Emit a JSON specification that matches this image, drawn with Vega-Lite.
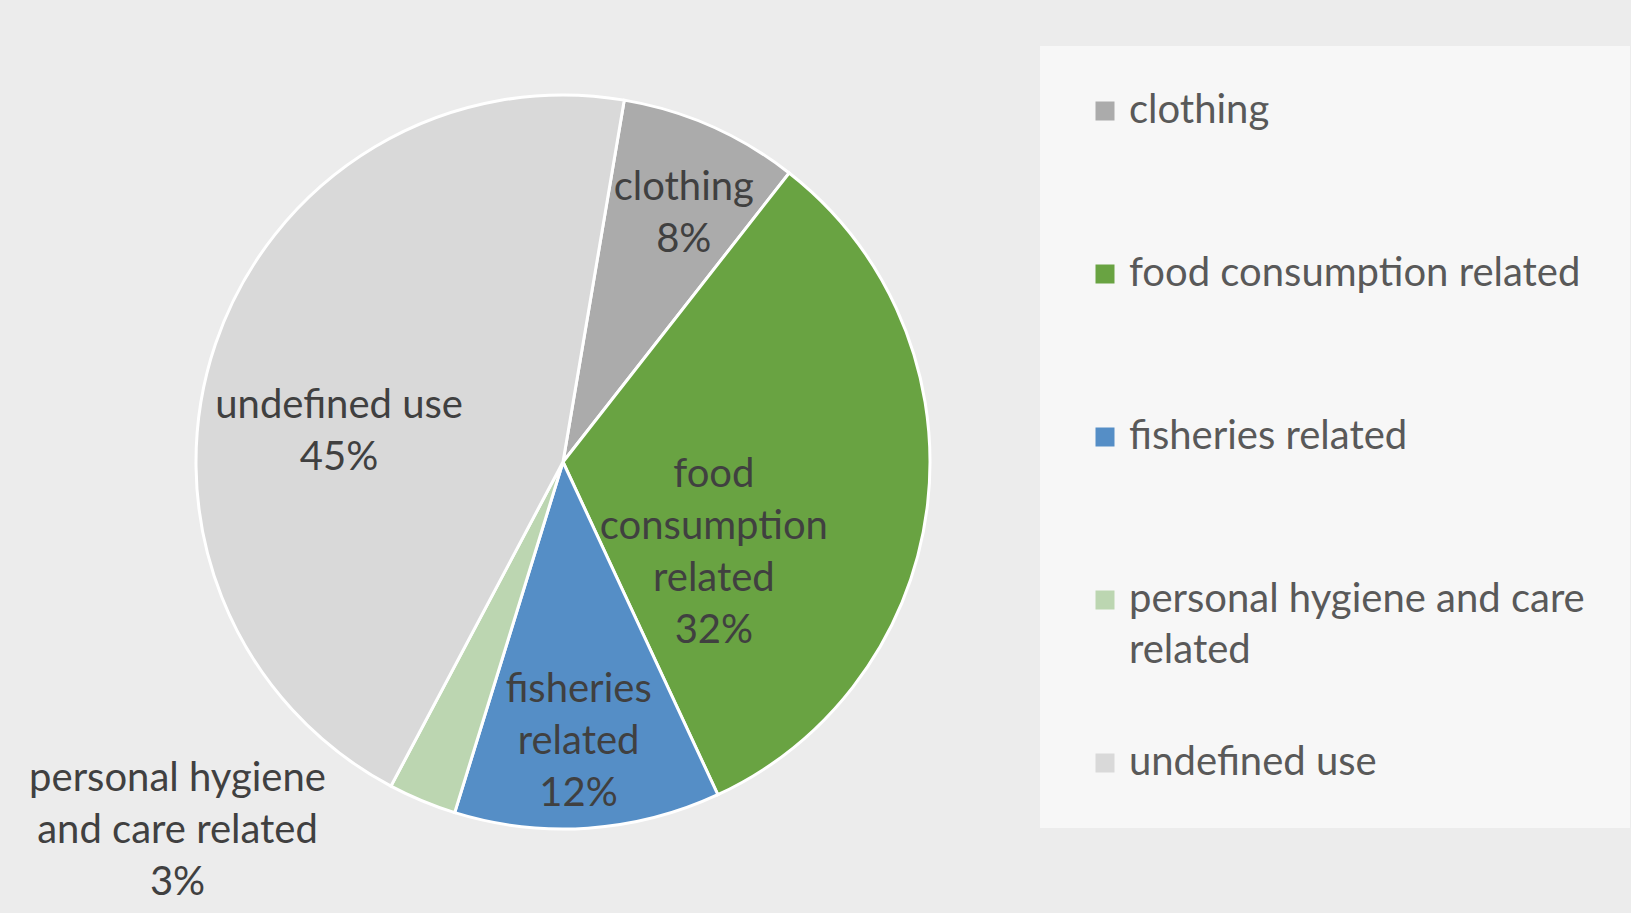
{
  "$schema": "https://vega.github.io/schema/vega-lite/v6.json",
  "background": "#ececec",
  "autosize": {"type": "none"},
  "padding": {"left": 0, "top": 11, "right": 505, "bottom": 0},
  "width": 1126,
  "height": 902,
  "data": {"values": [
    {"category": "clothing", "rank": 1, "share": 7.9, "label": "clothing|8%"},
    {"category": "food consumption related", "rank": 2, "share": 32.5, "label": "food|consumption|related|32%"},
    {"category": "fisheries related", "rank": 3, "share": 11.7, "label": "fisheries|related|12%"},
    {"category": "personal hygiene and care related", "rank": 4, "share": 3.0, "label": "personal hygiene|and care related|3%"},
    {"category": "undefined use", "rank": 5, "share": 44.9, "label": "undefined use|45%"}
  ]},
  "encoding": {
    "theta": {"field": "share", "type": "quantitative", "stack": true, "scale": {"range": [0.1676, 6.4508]}},
    "order": {"field": "rank", "type": "quantitative", "sort": "ascending"}
  },
  "layer": [
    {
      "mark": {"type": "arc", "outerRadius": 367, "stroke": "#ffffff", "strokeWidth": 3},
      "encoding": {
        "color": {
          "field": "category", "type": "nominal",
          "scale": {
            "domain": ["clothing", "food consumption related", "fisheries related", "personal hygiene and care related", "undefined use"],
            "range": ["#ababab", "#69a342", "#558ec6", "#bcd6b1", "#d9d9d9"]
          },
          "legend": {
            "title": null,
            "orient": "none",
            "legendX": 1040,
            "legendY": 35,
            "fillColor": "#f7f7f7",
            "padding": 45,
            "symbolType": "square",
            "symbolSize": 361,
            "symbolStrokeWidth": 0,
            "labelFont": "Lato",
            "labelFontSize": 40,
            "labelColor": "#595959",
            "labelOffset": 4,
            "labelLimit": 700,
            "rowPadding": 72,
            "gridAlign": "all",
            "labelExpr": "datum.value == 'personal hygiene and care related' ? ['personal hygiene and care', 'related'] : datum.label",
            "encode": {
              "labels": {
                "enter": {"lineHeight": {"value": 51}},
                "update": {
                  "lineHeight": {"value": 51},
                  "dy": {"signal": "datum.value == 'personal hygiene and care related' ? 25 : 0"}
                }
              }
            }
          }
        }
      }
    },
    {
      "mark": {"type": "text", "radius": 299, "font": "Lato", "fontSize": 40, "lineHeight": 52, "lineBreak": "|", "align": "center", "baseline": "middle"},
      "encoding": {
        "color": {"value": "#404040"},
        "text": {"condition": {"test": "datum.category == 'clothing'", "field": "label"}, "value": ""}
      }
    },
    {
      "mark": {"type": "text", "radius": 229, "font": "Lato", "fontSize": 40, "lineHeight": 52, "lineBreak": "|", "align": "center", "baseline": "middle"},
      "encoding": {
        "color": {"value": "#404040"},
        "text": {"condition": {"test": "datum.category == 'fisheries related'", "field": "label"}, "value": ""}
      }
    },
    {
      "mark": {"type": "text", "radius": 227, "dx": -9, "dy": 17, "font": "Lato", "fontSize": 40, "lineHeight": 52, "lineBreak": "|", "align": "center", "baseline": "middle"},
      "encoding": {
        "color": {"value": "#404040"},
        "text": {"condition": {"test": "datum.category == 'undefined use'", "field": "label"}, "value": ""}
      }
    },
    {
      "mark": {"type": "text", "radius": 175, "dx": -23, "dy": -7, "font": "Lato", "fontSize": 40, "lineHeight": 52, "lineBreak": "|", "align": "center", "baseline": "middle"},
      "encoding": {
        "color": {"value": "#404040"},
        "text": {"condition": {"test": "datum.category == 'food consumption related'", "field": "label"}, "value": ""}
      }
    },
    {
      "mark": {"type": "text", "radius": 400, "dx": -232, "dy": -52, "font": "Lato", "fontSize": 40, "lineHeight": 52, "lineBreak": "|", "align": "center", "baseline": "middle"},
      "encoding": {
        "color": {"value": "#404040"},
        "text": {"condition": {"test": "datum.category == 'personal hygiene and care related'", "field": "label"}, "value": ""}
      }
    }
  ],
  "config": {
    "font": "Lato",
    "view": {"stroke": null},
    "style": {"guide-label": {"lineHeight": 51}}
  }
}
